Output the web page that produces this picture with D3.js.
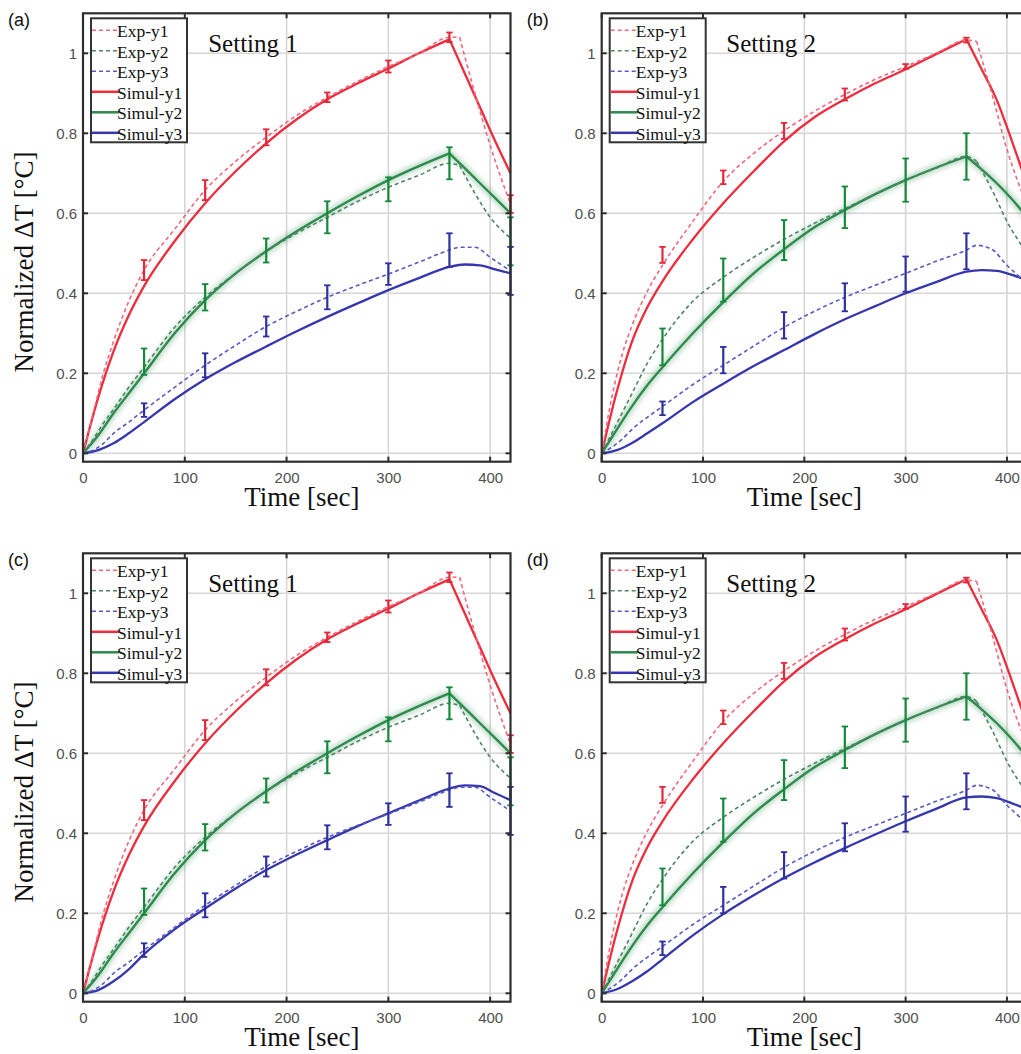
<!DOCTYPE html>
<html>
<head>
<meta charset="utf-8">
<script src="https://cdn.jsdelivr.net/npm/d3@7"></script>
<style>
  html, body { margin: 0; padding: 0; background: #fff; }
  svg { display: block; }
</style>
</head>
<body>
<svg id="chart" width="1021" height="1054"></svg>
<script>
// ---- time grids (s) ----
const tSim = [0, 15, 30, 45, 60, 90, 120, 150, 180, 210, 240, 270, 300, 330, 360, 375, 390, 405, 420];
const tExp = [0, 10, 20, 30, 45, 60, 90, 120, 150, 180, 210, 240, 270, 300, 330, 360, 370, 385, 400, 420];
const tErr = [60, 120, 180, 240, 300, 360, 420];

// ---- Setting 1: measured curves ----
const exp1Y1 = [0, 0.10, 0.20, 0.28, 0.38, 0.458, 0.56, 0.658, 0.73, 0.79, 0.845, 0.89, 0.93, 0.967, 1.00, 1.04, 1.04, 0.90, 0.77, 0.623];
const exp1Y2 = [0, 0.035, 0.075, 0.11, 0.165, 0.215, 0.315, 0.39, 0.45, 0.505, 0.55, 0.59, 0.63, 0.665, 0.695, 0.725, 0.72, 0.65, 0.59, 0.538];
const exp1Y3 = [0, 0.008, 0.025, 0.05, 0.078, 0.108, 0.165, 0.22, 0.27, 0.317, 0.355, 0.39, 0.42, 0.448, 0.478, 0.508, 0.515, 0.515, 0.49, 0.456];
// ---- Setting 1: simulated curves ----
const sim1Y1 = [0, 0.14, 0.255, 0.345, 0.418, 0.53, 0.625, 0.705, 0.775, 0.835, 0.885, 0.925, 0.962, 1.00, 1.035, 0.95, 0.865, 0.78, 0.70];
const sim1Y2 = [0, 0.045, 0.10, 0.15, 0.20, 0.30, 0.383, 0.45, 0.505, 0.555, 0.60, 0.643, 0.683, 0.718, 0.75, 0.713, 0.675, 0.638, 0.60];
const sim1Y3a = [0, 0.008, 0.025, 0.05, 0.078, 0.135, 0.185, 0.228, 0.267, 0.305, 0.341, 0.375, 0.408, 0.438, 0.466, 0.472, 0.47, 0.46, 0.45];
const sim1Y3c = [0, 0.008, 0.03, 0.06, 0.098, 0.16, 0.212, 0.262, 0.308, 0.347, 0.383, 0.418, 0.45, 0.482, 0.512, 0.52, 0.518, 0.50, 0.483];
// ---- Setting 1: error bars (centre, half-range) ----
const err1Y1C = [0.458, 0.658, 0.79, 0.89, 0.967, 1.04, 0.623];
const err1Y1H = [0.025, 0.025, 0.02, 0.012, 0.015, 0.012, 0.022];
const err1Y2C = [0.229, 0.39, 0.507, 0.59, 0.66, 0.725, 0.53];
const err1Y2H = [0.033, 0.033, 0.03, 0.04, 0.03, 0.04, 0.06];
const err1Y3C = [0.108, 0.22, 0.317, 0.39, 0.448, 0.508, 0.456];
const err1Y3H = [0.017, 0.03, 0.025, 0.03, 0.027, 0.042, 0.06];

// ---- Setting 2: measured curves ----
const exp2Y1 = [0, 0.14, 0.245, 0.32, 0.405, 0.47, 0.58, 0.68, 0.75, 0.806, 0.855, 0.897, 0.935, 0.967, 1.00, 1.033, 1.03, 0.90, 0.76, 0.62];
const exp2Y2 = [0, 0.05, 0.10, 0.15, 0.225, 0.285, 0.38, 0.44, 0.49, 0.535, 0.575, 0.612, 0.648, 0.683, 0.713, 0.742, 0.73, 0.66, 0.58, 0.50];
const exp2Y3 = [0, 0.015, 0.035, 0.06, 0.09, 0.117, 0.172, 0.22, 0.268, 0.315, 0.355, 0.39, 0.42, 0.45, 0.48, 0.508, 0.52, 0.51, 0.47, 0.425];
// ---- Setting 2: simulated curves ----
const sim2Y1 = [0, 0.155, 0.28, 0.365, 0.43, 0.535, 0.625, 0.705, 0.78, 0.84, 0.885, 0.925, 0.96, 0.998, 1.035, 0.96, 0.883, 0.78, 0.67];
const sim2Y2 = [0, 0.06, 0.118, 0.17, 0.215, 0.30, 0.378, 0.45, 0.51, 0.565, 0.608, 0.648, 0.683, 0.714, 0.742, 0.71, 0.675, 0.635, 0.59];
const sim2Y3b = [0, 0.008, 0.026, 0.05, 0.075, 0.128, 0.174, 0.218, 0.258, 0.298, 0.335, 0.368, 0.40, 0.428, 0.454, 0.458, 0.456, 0.446, 0.432];
const sim2Y3d = [0, 0.01, 0.03, 0.055, 0.085, 0.145, 0.198, 0.245, 0.288, 0.327, 0.363, 0.397, 0.43, 0.461, 0.49, 0.492, 0.488, 0.475, 0.46];
// ---- Setting 2: error bars (centre, half-range) ----
const err2Y1C = [0.496, 0.69, 0.806, 0.897, 0.967, 1.033];
const err2Y1H = [0.02, 0.017, 0.02, 0.015, 0.006, 0.006];
const err2Y2C = [0.266, 0.433, 0.533, 0.615, 0.683, 0.742];
const err2Y2H = [0.046, 0.054, 0.05, 0.052, 0.054, 0.058];
const err2Y3C = [0.1125, 0.233, 0.32, 0.39, 0.448, 0.505];
const err2Y3H = [0.017, 0.033, 0.033, 0.035, 0.044, 0.045];

// ---- labels ----
const xTicks = [0, 100, 200, 300, 400];
const yTicks = [0, 0.2, 0.4, 0.6, 0.8, 1];
const legendNames = ["Exp-y1", "Exp-y2", "Exp-y3", "Simul-y1", "Simul-y2", "Simul-y3"];
const xTitle = "Time [sec]";
const yTitle = "Normalized \u0394T [\u00B0C]";

// ---- styling ----
const SERIF = "'Liberation Serif', 'Times New Roman', serif";
const SANS = "'Liberation Sans', Arial, sans-serif";
const col = {
  simR: "#ef2c3c", simG: "#2c8a4c", simB: "#3636ae",
  expR: "#f0687c", expG: "#4f8468", expB: "#5a5ac0",
  errR: "#e2293a", errG: "#15893a", errB: "#2f2f9e"
};

const panels = [
  { tag: "(a)", setting: "Setting 1", left: 83, top: 13.3, w: 427.5, yTitleY: 262,
    xTitleT: 215, exp: [exp1Y1, exp1Y2, exp1Y3], sim: [sim1Y1, sim1Y2, sim1Y3a],
    err: [[err1Y1C, err1Y1H], [err1Y2C, err1Y2H], [err1Y3C, err1Y3H]] },
  { tag: "(b)", setting: "Setting 2", left: 601.7, top: 13.3, w: 425.5, yTitleY: null,
    xTitleT: 200, exp: [exp2Y1, exp2Y2, exp2Y3], sim: [sim2Y1, sim2Y2, sim2Y3b],
    err: [[err2Y1C, err2Y1H], [err2Y2C, err2Y2H], [err2Y3C, err2Y3H]] },
  { tag: "(c)", setting: "Setting 1", left: 83, top: 553.3, w: 427.5, yTitleY: 792,
    xTitleT: 215, exp: [exp1Y1, exp1Y2, exp1Y3], sim: [sim1Y1, sim1Y2, sim1Y3c],
    err: [[err1Y1C, err1Y1H], [err1Y2C, err1Y2H], [err1Y3C, err1Y3H]] },
  { tag: "(d)", setting: "Setting 2", left: 601.7, top: 553.3, w: 425.5, yTitleY: null,
    xTitleT: 200, exp: [exp2Y1, exp2Y2, exp2Y3], sim: [sim2Y1, sim2Y2, sim2Y3d],
    err: [[err2Y1C, err2Y1H], [err2Y2C, err2Y2H], [err2Y3C, err2Y3H]] }
];

const svg = d3.select("#chart");
const defs = svg.append("defs");
defs.append("filter").attr("id", "glow")
  .attr("x", "-10%").attr("y", "-10%").attr("width", "120%").attr("height", "120%")
  .append("feGaussianBlur").attr("stdDeviation", 2.4);

const H = 448.4; // plot height in px (y from -0.021 to 1.1)

panels.forEach((p, pi) => {
  const x = d3.scaleLinear().domain([0, 420]).range([p.left, p.left + p.w]);
  const y = d3.scaleLinear().domain([-0.021, 1.1]).range([p.top + H, p.top]);
  const g = svg.append("g");

  const clipId = "clip" + pi;
  defs.append("clipPath").attr("id", clipId).append("rect")
    .attr("x", p.left).attr("y", p.top).attr("width", p.w).attr("height", H);

  // grid
  g.append("g").selectAll("line").data(xTicks.filter(d => d > 0)).join("line")
    .attr("x1", d => x(d)).attr("x2", d => x(d)).attr("y1", p.top).attr("y2", p.top + H)
    .attr("stroke", "#d6d6d6").attr("stroke-width", 1.6);
  g.append("g").selectAll("line").data(yTicks).join("line")
    .attr("x1", p.left).attr("x2", p.left + p.w).attr("y1", d => y(d)).attr("y2", d => y(d))
    .attr("stroke", "#d6d6d6").attr("stroke-width", 1.6);

  // tick labels via axes
  const xAxis = g.append("g").attr("transform", `translate(0,${p.top + H})`)
    .call(d3.axisBottom(x).tickValues(xTicks).tickSize(0).tickPadding(11));
  xAxis.select(".domain").remove();
  xAxis.selectAll("text").attr("font-family", SANS).attr("font-size", 15).attr("fill", "#4f4f4f");

  const yAxis = g.append("g").attr("transform", `translate(${p.left},0)`)
    .call(d3.axisLeft(y).tickValues(yTicks).tickFormat(d3.format("~g")).tickSize(0).tickPadding(6));
  yAxis.select(".domain").remove();
  yAxis.selectAll("text").attr("font-family", SANS).attr("font-size", 15).attr("fill", "#4f4f4f");

  const plot = g.append("g").attr("clip-path", `url(#${clipId})`);

  const lineOf = (ts) => d3.line().x((d, i) => x(ts[i])).y(d => y(d)).curve(d3.curveMonotoneX);

  // draws a series, optionally as two pieces joined at a sharp turning time
  function drawSeries(ts, vals, splitT, attrs, glow) {
    const pieces = [];
    if (splitT == null) pieces.push([ts, vals]);
    else {
      const k = ts.indexOf(splitT);
      pieces.push([ts.slice(0, k + 1), vals.slice(0, k + 1)]);
      pieces.push([ts.slice(k), vals.slice(k)]);
    }
    pieces.forEach(([tt, vv]) => {
      if (glow) {
        plot.append("path").datum(vv).attr("d", lineOf(tt))
          .attr("fill", "none").attr("stroke", attrs.stroke).attr("stroke-width", 7)
          .attr("opacity", 0.3).attr("filter", "url(#glow)");
      }
      const path = plot.append("path").datum(vv).attr("d", lineOf(tt)).attr("fill", "none")
        .attr("stroke-linejoin", "round");
      Object.entries(attrs).forEach(([k, v]) => path.attr(k, v));
    });
  }

  const expCols = [col.expR, col.expG, col.expB];
  const simCols = [col.simR, col.simG, col.simB];
  const errCols = [col.errR, col.errG, col.errB];

  // simulated (solid)
  p.sim.forEach((vals, i) => {
    drawSeries(tSim, vals, i < 2 ? 360 : null,
      { stroke: simCols[i], "stroke-width": 2.3 }, i === 1);
  });
  // measured (dashed)
  p.exp.forEach((vals, i) => {
    drawSeries(tExp, vals, i < 2 ? 370 : null,
      { stroke: expCols[i], "stroke-width": 1.6, "stroke-dasharray": "4,3" }, false);
  });

  // error bars
  p.err.forEach(([cs, hs], i) => {
    const rows = cs.map((c, j) => ({ t: tErr[j], c, h: hs[j] }));
    const eg = g.append("g").attr("stroke", errCols[i]).attr("stroke-width", 2.2);
    eg.selectAll("line.v").data(rows).join("line").attr("class", "v")
      .attr("x1", d => x(d.t)).attr("x2", d => x(d.t))
      .attr("y1", d => y(d.c - d.h)).attr("y2", d => y(d.c + d.h));
    ["lo", "hi"].forEach(side => {
      eg.selectAll("line." + side).data(rows).join("line").attr("class", side)
        .attr("x1", d => x(d.t) - 3.2).attr("x2", d => x(d.t) + 3.2)
        .attr("y1", d => y(side === "lo" ? d.c - d.h : d.c + d.h))
        .attr("y2", d => y(side === "lo" ? d.c - d.h : d.c + d.h))
        .attr("stroke-width", 1.8);
    });
  });

  // frame with inward ticks
  const fr = g.append("g").attr("stroke", "#2e2e2e");
  fr.append("rect").attr("x", p.left).attr("y", p.top).attr("width", p.w).attr("height", H)
    .attr("fill", "none").attr("stroke-width", 2.2);
  fr.selectAll("line.yt").data(yTicks).join("line").attr("class", "yt")
    .attr("x1", p.left).attr("x2", p.left + 5).attr("y1", d => y(d)).attr("y2", d => y(d)).attr("stroke-width", 2);
  fr.selectAll("line.yr").data(yTicks).join("line").attr("class", "yr")
    .attr("x1", p.left + p.w - 5).attr("x2", p.left + p.w).attr("y1", d => y(d)).attr("y2", d => y(d)).attr("stroke-width", 2);
  fr.selectAll("line.xb").data(xTicks).join("line").attr("class", "xb")
    .attr("x1", d => x(d)).attr("x2", d => x(d)).attr("y1", p.top + H).attr("y2", p.top + H - 5).attr("stroke-width", 2);
  fr.selectAll("line.xt").data(xTicks).join("line").attr("class", "xt")
    .attr("x1", d => x(d)).attr("x2", d => x(d)).attr("y1", p.top).attr("y2", p.top + 5).attr("stroke-width", 2);

  // legend
  const lx = p.left + 8, ly = p.top + 5, lw = 96, lh = 124;
  const lg = g.append("g");
  lg.append("rect").attr("x", lx).attr("y", ly).attr("width", lw).attr("height", lh)
    .attr("fill", "#fff").attr("stroke", "#333").attr("stroke-width", 2);
  const legendStyles = [
    { c: col.expR, dash: "4,3", w: 1.5 }, { c: col.expG, dash: "4,3", w: 1.5 }, { c: col.expB, dash: "4,3", w: 1.5 },
    { c: col.simR, dash: null, w: 2.5 }, { c: col.simG, dash: null, w: 2.5 }, { c: col.simB, dash: null, w: 2.5 }
  ];
  legendNames.forEach((name, i) => {
    const yy = ly + 12 + i * 20.5;
    const ln = lg.append("line").attr("x1", lx + 1).attr("x2", lx + 28).attr("y1", yy).attr("y2", yy)
      .attr("stroke", legendStyles[i].c).attr("stroke-width", legendStyles[i].w);
    if (legendStyles[i].dash) ln.attr("stroke-dasharray", legendStyles[i].dash);
    lg.append("text").attr("x", lx + 26).attr("y", yy + 7).text(name)
      .attr("font-family", SERIF).attr("font-size", 17.5).attr("fill", "#111");
  });

  // setting label
  g.append("text").attr("x", x(123)).attr("y", p.top + 39).text(p.setting)
    .attr("font-family", SERIF).attr("font-size", 25).attr("fill", "#111");

  // panel tag
  g.append("text").attr("x", p.left - 75).attr("y", p.top + 13).text(p.tag)
    .attr("font-family", SANS).attr("font-size", 18).attr("fill", "#111");

  // axis titles
  g.append("text").attr("x", x(p.xTitleT)).attr("y", p.top + H + 44).attr("text-anchor", "middle")
    .text(xTitle).attr("font-family", SERIF).attr("font-size", 27).attr("fill", "#111");
  if (p.yTitleY != null) {
    g.append("text").attr("transform", `translate(33,${p.yTitleY}) rotate(-90)`)
      .attr("text-anchor", "middle").text(yTitle)
      .attr("font-family", SERIF).attr("font-size", 27).attr("fill", "#111");
  }
});
</script>
</body>
</html>
